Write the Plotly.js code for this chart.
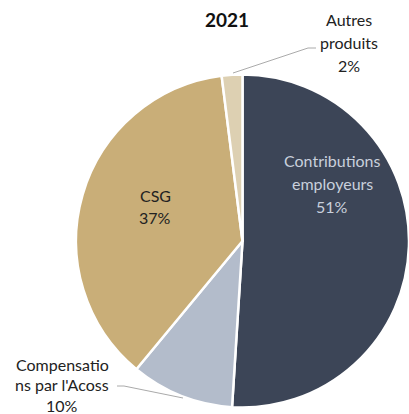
<!DOCTYPE html>
<html>
<head>
<meta charset="utf-8">
<script src="https://cdn.plot.ly/plotly-3.0.1.min.js"></script>
<style>html,body{margin:0;padding:0;background:#fff;}#chart{width:409px;height:414px;}</style>
</head>
<body>
<div id="chart"></div>
<script>
const title = "2021";
const categories = ["Contributions employeurs", "Compensations par l'Acoss", "CSG", "Autres produits"];
const labelLines = [["Contributions", "employeurs"], ["Compensatio", "ns par l'Acoss"], ["CSG"], ["Autres", "produits"]];
const values = [51, 10, 37, 2];
const colors = ["#3c4557", "#b3bccb", "#c9ae78", "#ddd0b2"];

const W = 409, H = 414;
const px = x => x / W;
const py = y => 1 - y / H;
const FONT = "Lato, 'Open Sans', sans-serif";

const total = values.reduce((a, b) => a + b, 0);
const pct = values.map(v => Math.round(v / total * 100) + "%");

// position of first line of each label (pixel coords from top-left) and line gap
const labelPos = [
  {x: 332, y: 161, gap: 22.5, color: "#c9d0dc"},
  {x: 62, y: 364, gap: 20.5, color: "#222"},
  {x: 155, y: 195, gap: 22.5, color: "#222"},
  {x: 349, y: 20, gap: 22.5, color: "#222"}
];

const annotations = [];
labelLines.forEach((lines, i) => {
  const all = lines.concat([pct[i]]);
  all.forEach((t, k) => {
    annotations.push({
      text: t, xref: "paper", yref: "paper",
      x: px(labelPos[i].x), y: py(labelPos[i].y + k * labelPos[i].gap),
      xanchor: "center", yanchor: "middle", showarrow: false,
      font: {family: FONT, size: 16, color: labelPos[i].color}
    });
  });
});
annotations.push({
  text: "<b>" + title + "</b>", xref: "paper", yref: "paper",
  x: px(227), y: py(20), xanchor: "center", yanchor: "middle", showarrow: false,
  font: {family: FONT, size: 19, color: "#111"}
});

const shapes = [
  {type: "line", xref: "paper", yref: "paper", x0: px(233), y0: py(73), x1: px(308), y1: py(48), line: {color: "#aaaaaa", width: 1}},
  {type: "line", xref: "paper", yref: "paper", x0: px(308), y0: py(48), x1: px(316), y1: py(48), line: {color: "#aaaaaa", width: 1}},
  {type: "line", xref: "paper", yref: "paper", x0: px(117), y0: py(386), x1: px(124), y1: py(386), line: {color: "#aaaaaa", width: 1}},
  {type: "line", xref: "paper", yref: "paper", x0: px(124), y0: py(386), x1: px(183), y1: py(398), line: {color: "#aaaaaa", width: 1}}
];

const trace = {
  type: "pie",
  labels: categories,
  values: values,
  marker: {colors: colors, line: {color: "#ffffff", width: 2.5}},
  sort: false,
  direction: "clockwise",
  rotation: 0,
  textinfo: "none",
  hoverinfo: "label+percent",
  domain: {x: [px(76), 1], y: [py(408), py(74)]}
};

const layout = {
  width: W, height: H,
  margin: {l: 0, r: 0, t: 0, b: 0},
  showlegend: false,
  paper_bgcolor: "#ffffff",
  annotations: annotations,
  shapes: shapes
};

Plotly.newPlot("chart", [trace], layout, {displayModeBar: false, staticPlot: true});
</script>
</body>
</html>
